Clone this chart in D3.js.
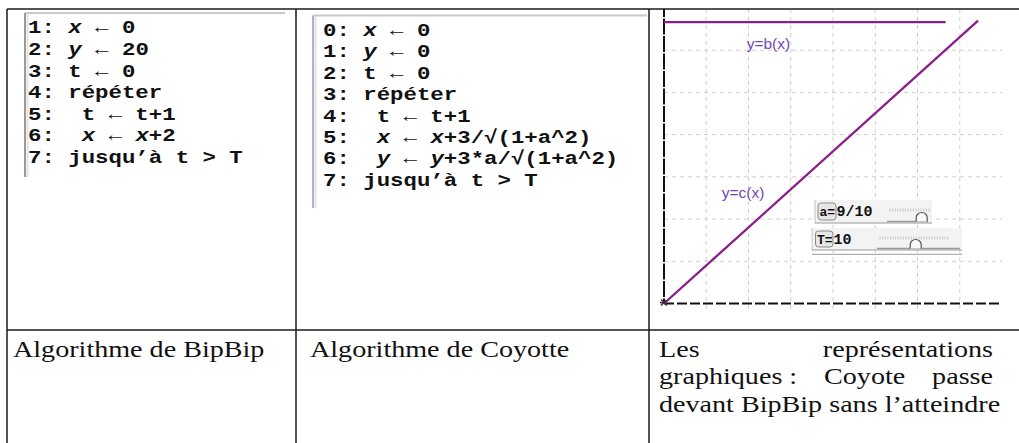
<!DOCTYPE html>
<html>
<head>
<meta charset="utf-8">
<script src="https://cdn.jsdelivr.net/npm/d3@7"></script>
<style>
  body { margin: 0; padding: 0; background: #fff; }
  svg { display: block; }
  .code { font-family: 'Liberation Mono', 'DejaVu Sans Mono', monospace; font-weight: bold; white-space: pre; fill: #111; }
  .caption { font-family: 'Liberation Serif', 'DejaVu Serif', serif; fill: #111; white-space: pre; }
</style>
</head>
<body>
<div id="main"></div>
<script>
// text of the two algorithm boxes (_x_ = italic)
const bipbipLines = [
    '1: _x_ ← 0',
    '2: _y_ ← 20',
    '3: t ← 0',
    '4: répéter',
    '5:  t ← t+1',
    '6:  _x_ ← _x_+2',
    '7: jusqu’à t > T'
];
const coyoteLines = [
    '0: _x_ ← 0',
    '1: _y_ ← 0',
    '2: t ← 0',
    '3: répéter',
    '4:  t ← t+1',
    '5:  _x_ ← _x_+3/√(1+a^2)',
    '6:  _y_ ← _y_+3*a/√(1+a^2)',
    '7: jusqu’à t > T'
];
const captionLeft = 'Algorithme de BipBip';
const captionMiddle = 'Algorithme de Coyotte';
const captionRight = ['Les représentations', 'graphiques\u00a0: Coyote passe', 'devant BipBip sans l’atteindre'];

// the two plotted curves
const bX = [0, 20];
const bY = [20, 20];
const cX = [0, 22.3];
const cY = [0, 20.1];
const curveLabels = ['y=b(x)', 'y=c(x)'];

// sliders
const sliderNames = ['a', 'T'];
const sliderValues = ['9/10', '10'];

const WIDTH = 1019, HEIGHT = 443;
const TOP = 9, LEFT = 7, ROWSEP = 330;
const COLS = [LEFT, 296, 649];
const SX = 1.25; // the scan is stretched horizontally

const svg = d3.select('#main').append('svg')
    .attr('width', WIDTH)
    .attr('height', HEIGHT)
    .style('background', '#fff');

// ---------- code boxes ----------
const codeBox = (lines, x0, y0, step, box) => {
    const g = svg.append('g');
    g.append('line')
        .attr('x1', box.x).attr('x2', box.x2).attr('y1', box.y).attr('y2', box.y)
        .attr('stroke', '#c9c9c9').attr('stroke-width', 2);
    g.append('line')
        .attr('x1', box.x).attr('x2', box.x).attr('y1', box.y).attr('y2', box.y2)
        .attr('stroke', box.bar).attr('stroke-width', 2);
    g.append('line')
        .attr('x1', box.x + 2.5).attr('x2', box.x + 2.5).attr('y1', box.y + 1).attr('y2', box.y2)
        .attr('stroke', '#e2e2e2').attr('stroke-width', 2);
    lines.forEach((line, i) => {
        const t = g.append('text')
            .attr('class', 'code')
            .attr('font-size', 18.8)
            .attr('transform', `translate(${x0},${y0 + i * step}) scale(1.19,1)`);
        line.split('_').forEach((part, k) => {
            if (part === '') return;
            t.append('tspan')
                .attr('font-style', k % 2 === 1 ? 'italic' : 'normal')
                .text(part);
        });
    });
};

codeBox(bipbipLines, 28, 33.3, 21.6, {x: 25, x2: 285, y: 13, y2: 177, bar: '#9a9a9a'});
codeBox(coyoteLines, 323, 36, 21.4, {x: 313, x2: 647, y: 15.5, y2: 208, bar: '#aab6c8'});

// ---------- chart ----------
const xScale = d3.scaleLinear().domain([0, 24]).range([664, 1002]);
const yScale = d3.scaleLinear().domain([0, 21]).range([303.5, 8]);

svg.append('clipPath').attr('id', 'chartClip')
    .append('rect').attr('x', COLS[2]).attr('y', TOP).attr('width', WIDTH - COLS[2]).attr('height', ROWSEP - TOP);
const chart = svg.append('g').attr('clip-path', 'url(#chartClip)');

const grid = chart.append('g')
    .attr('stroke', '#cfcfcf')
    .attr('stroke-width', 1)
    .attr('stroke-dasharray', '4,4');
grid.selectAll('line.v').data(d3.range(3, 24, 3)).enter().append('line')
    .attr('class', 'v')
    .attr('x1', (d) => xScale(d)).attr('x2', (d) => xScale(d))
    .attr('y1', yScale(21.5)).attr('y2', yScale(-0.6));
grid.selectAll('line.h').data(d3.range(3, 21, 3)).enter().append('line')
    .attr('class', 'h')
    .attr('x1', xScale(0)).attr('x2', xScale(24))
    .attr('y1', (d) => yScale(d)).attr('y2', (d) => yScale(d));

chart.append('line')
    .attr('x1', xScale(0)).attr('x2', xScale(0))
    .attr('y1', yScale(21.5)).attr('y2', yScale(0))
    .attr('stroke', '#111').attr('stroke-width', 2).attr('stroke-dasharray', '16,1.5');
chart.append('line')
    .attr('x1', xScale(0)).attr('x2', xScale(24))
    .attr('y1', yScale(0)).attr('y2', yScale(0))
    .attr('stroke', '#111').attr('stroke-width', 2).attr('stroke-dasharray', '10,3');

const curve = d3.line().x((d) => xScale(d[0])).y((d) => yScale(d[1]));
const series = [d3.zip(bX, bY), d3.zip(cX, cY)];
chart.selectAll('path.curve').data(series).enter().append('path')
    .attr('class', 'curve')
    .attr('d', curve)
    .attr('fill', 'none')
    .attr('stroke', '#8b1d8b')
    .attr('stroke-width', 2.3);

// small point marker at the origin
chart.append('path')
    .attr('d', `M${xScale(0) - 3},${yScale(0) - 4} l6,6 M${xScale(0) - 3},${yScale(0) + 2} l5,-5 M${xScale(0) - 4},${yScale(0) - 1} l7,1`)
    .attr('stroke', '#333').attr('stroke-width', 1.5);

const labelAt = [[5.87, 18.1], [4.1, 7.5]];
chart.selectAll('text.curvelabel').data(curveLabels).enter().append('text')
    .attr('class', 'curvelabel')
    .attr('x', (d, i) => xScale(labelAt[i][0]))
    .attr('y', (d, i) => yScale(labelAt[i][1]))
    .attr('font-family', "'Liberation Sans', Arial, sans-serif")
    .attr('font-size', 15.5)
    .attr('fill', '#7049b5')
    .text((d) => d);

// sliders
const sliderBoxes = [
    {x: 815, w: 117, y: 200, h: 23, bx: 818, bw: 18, tick0: 890, tick1: 930, track0: 887, track1: 928, knob: 921.7},
    {x: 812, w: 150, y: 228, h: 22, bx: 815.5, bw: 17.5, tick0: 880, tick1: 948, track0: 877, track1: 960, knob: 915.7}
];
sliderBoxes.forEach((b, i) => {
    const g = chart.append('g');
    g.append('rect').attr('x', b.x).attr('y', b.y).attr('width', b.w).attr('height', b.h).attr('fill', '#f3f3f3');
    g.append('line').attr('x1', b.x).attr('x2', b.x).attr('y1', b.y).attr('y2', b.y + b.h).attr('stroke', '#c4c4c4');
    g.append('line').attr('x1', b.x).attr('x2', b.x + b.w).attr('y1', b.y + b.h).attr('y2', b.y + b.h)
        .attr('stroke', '#9a9a9a').attr('stroke-width', 1.2);
    if (i === 1) {
        g.append('line').attr('x1', b.x).attr('x2', b.x + b.w).attr('y1', b.y + b.h + 4.3).attr('y2', b.y + b.h + 4.3)
            .attr('stroke', '#b0b0b0').attr('stroke-width', 1.2);
    }
    g.append('rect').attr('x', b.bx).attr('y', b.y + 3).attr('width', b.bw).attr('height', b.h - 6)
        .attr('rx', 3).attr('fill', '#e6e6e6').attr('stroke', '#8a8a8a');
    g.append('text').attr('class', 'code').attr('font-size', 13)
        .attr('x', b.bx + 1.5).attr('y', b.y + 15.5)
        .text(sliderNames[i] + '=');
    g.append('text').attr('class', 'code').attr('font-size', 15)
        .attr('x', b.bx + b.bw + 0.5).attr('y', b.y + 16)
        .text(sliderValues[i]);
    const ty = b.y + 8.5;
    g.selectAll('line.tick').data(d3.range(b.tick0, b.tick1, 2.6)).enter().append('line')
        .attr('class', 'tick')
        .attr('x1', (d) => d).attr('x2', (d) => d).attr('y1', ty).attr('y2', ty + 3)
        .attr('stroke', '#c8c8c8').attr('stroke-width', 1);
    const trackY = b.y + b.h - 1.5;
    g.append('line').attr('x1', b.track0).attr('x2', b.track1).attr('y1', trackY).attr('y2', trackY)
        .attr('stroke', '#9a9a9a').attr('stroke-width', 1.5);
    g.append('path')
        .attr('d', `M${b.knob - 5.5},${trackY} L${b.knob - 5.5},${trackY - 4} A5.5,5 0 0 1 ${b.knob + 5.5},${trackY - 4} L${b.knob + 5.5},${trackY}`)
        .attr('fill', '#fafafa').attr('stroke', '#555').attr('stroke-width', 1.2);
});

// ---------- captions ----------
const captionText = (str, x, y) => svg.append('text')
    .attr('class', 'caption')
    .attr('font-size', 22.5)
    .attr('transform', `translate(${x},${y}) scale(${SX},1)`)
    .text(str);

captionText(captionLeft, 13, 356.5);
captionText(captionMiddle, 310, 356.5);

const RIGHTL = 659, RIGHTR = 993;
captionRight.forEach((line, i) => {
    const y = 356.5 + i * 27.6;
    if (i === captionRight.length - 1) {
        captionText(line, RIGHTL, y);
        return;
    }
    const words = line.split(' ');
    const nodes = words.map((w) => captionText(w, 0, y));
    const widths = nodes.map((n) => n.node().getComputedTextLength() * SX);
    const gap = (RIGHTR - RIGHTL - d3.sum(widths)) / (words.length - 1);
    let x = RIGHTL;
    nodes.forEach((n, k) => {
        n.attr('transform', `translate(${x},${y}) scale(${SX},1)`);
        x += widths[k] + gap;
    });
});

// ---------- table rules ----------
const rules = svg.append('g').attr('stroke', '#1a1a1a').attr('stroke-width', 1.5);
rules.append('line').attr('x1', LEFT).attr('x2', WIDTH).attr('y1', TOP).attr('y2', TOP);
rules.append('line').attr('x1', LEFT).attr('x2', WIDTH).attr('y1', ROWSEP).attr('y2', ROWSEP);
rules.selectAll('line.col').data(COLS).enter().append('line')
    .attr('class', 'col')
    .attr('x1', (d) => d).attr('x2', (d) => d)
    .attr('y1', TOP).attr('y2', HEIGHT);
</script>
</body>
</html>
